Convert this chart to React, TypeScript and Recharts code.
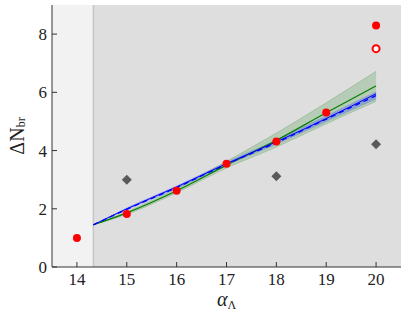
import {
  ComposedChart,
  Area,
  Line,
  Scatter,
  XAxis,
  YAxis,
  ReferenceArea,
  ReferenceLine,
} from "recharts";

// curve samples (start at the lower alpha cut)
const curveX = [14.33, 15, 16, 17, 18, 19, 20];
const greenMid = [1.45, 1.86, 2.62, 3.5, 4.35, 5.3, 6.22];
const greenLow = [1.45, 1.81, 2.55, 3.4, 4.12, 4.92, 5.69];
const greenHigh = [1.45, 1.9, 2.7, 3.63, 4.6, 5.64, 6.72];
const blueSolid = [1.45, 2.0, 2.75, 3.55, 4.3, 5.1, 5.95];
const blueDash = [1.45, 1.98, 2.73, 3.53, 4.27, 5.08, 5.89];
const blueLow = [1.45, 1.95, 2.69, 3.48, 4.21, 4.99, 5.76];
const blueHigh = [1.45, 2.04, 2.8, 3.61, 4.37, 5.2, 6.03];

// points
const redX = [14, 15, 16, 17, 18, 19, 20];
const redY = [1.0, 1.82, 2.62, 3.55, 4.31, 5.31, 8.3];
const openX = [20];
const openY = [7.5];
const diamondX = [15, 18, 20];
const diamondY = [3.0, 3.12, 4.22];

const xTicks = [14, 15, 16, 17, 18, 19, 20];
const yTicks = [0, 2, 4, 6, 8];
const cutX = 14.33;

const curveData = curveX.map((x, i) => ({
  x,
  gMid: greenMid[i],
  gBand: [greenLow[i], greenHigh[i]],
  bSolid: blueSolid[i],
  bDash: blueDash[i],
  bBand: [blueLow[i], blueHigh[i]],
}));
const redData = redX.map((x, i) => ({ x, y: redY[i] }));
const openData = openX.map((x, i) => ({ x, y: openY[i] }));
const diamondData = diamondX.map((x, i) => ({ x, y: diamondY[i] }));

const font = "Liberation Serif, Times New Roman, serif";
const tickStyle = { fontSize: 17, fill: "#222", fontFamily: font };

const RedDot = (p: any) => <circle cx={p.cx} cy={p.cy} r={4} fill="#ff0000" />;
const OpenDot = (p: any) => (
  <circle cx={p.cx} cy={p.cy} r={3.5} fill="#ffffff" stroke="#ff0000" strokeWidth={2} />
);
const Diamond = (p: any) => (
  <path
    d={`M${p.cx},${p.cy - 5}L${p.cx + 5},${p.cy}L${p.cx},${p.cy + 5}L${p.cx - 5},${p.cy}Z`}
    fill="#5a5a5a"
  />
);

const YTitle = (p: any) => {
  const vb = p.viewBox;
  const cx = 17;
  const cy = vb.y + vb.height / 2;
  return (
    <text
      x={cx}
      y={cy}
      transform={`rotate(-90 ${cx} ${cy})`}
      textAnchor="middle"
      dominantBaseline="central"
      fontFamily={font}
      fontSize={20}
      fill="#222"
    >
      ΔN
      <tspan fontSize={12} dy={4}>br</tspan>
    </text>
  );
};

const XTitle = (p: any) => {
  const vb = p.viewBox;
  return (
    <text
      x={vb.x + vb.width / 2}
      y={306}
      textAnchor="middle"
      fontFamily={font}
      fontStyle="italic"
      fontSize={20}
      fill="#222"
    >
      α
      <tspan fontSize={12} dy={3} fontStyle="normal">Λ</tspan>
    </text>
  );
};

export default function App() {
  return (
    <div style={{ position: "absolute", left: 0, top: 0, background: "#fff" }}>
      <ComposedChart
        width={407}
        height={317}
        data={curveData}
        margin={{ top: 5, right: 6, left: 0, bottom: 0 }}
      >
        <ReferenceArea x1={13.5} x2={cutX} y1={0} y2={9} fill="#f2f2f2" fillOpacity={1} stroke="none" />
        <ReferenceArea x1={cutX} x2={20.5} y1={0} y2={9} fill="#dedede" fillOpacity={1} stroke="none" />
        <ReferenceLine x={cutX} stroke="#c6c6c6" strokeWidth={1.5} />

        <XAxis
          dataKey="x"
          type="number"
          domain={[13.5, 20.5]}
          ticks={xTicks}
          allowDataOverflow
          height={50}
          stroke="#333"
          tickSize={-5}
          tickMargin={11}
          tick={tickStyle}
          label={<XTitle />}
        />
        <XAxis
          xAxisId="top"
          orientation="top"
          type="number"
          domain={[13.5, 20.5]}
          ticks={xTicks}
          height={0}
          stroke="#333"
          tickSize={-5}
          tick={false}
        />
        <YAxis
          type="number"
          domain={[0, 9]}
          ticks={yTicks}
          allowDataOverflow
          width={52}
          stroke="#333"
          tickSize={-5}
          tickMargin={10}
          tick={tickStyle}
          label={<YTitle />}
        />
        <YAxis
          yAxisId="right"
          orientation="right"
          type="number"
          domain={[0, 9]}
          ticks={yTicks}
          width={0}
          stroke="#333"
          tickSize={-5}
          tick={false}
        />

        <Area
          dataKey="gBand"
          type="monotone"
          fill="#2e8b2e"
          fillOpacity={0.22}
          stroke="#2e8b2e"
          strokeOpacity={0.3}
          strokeWidth={0.8}
          isAnimationActive={false}
        />
        <Area
          dataKey="bBand"
          type="monotone"
          fill="#2040ff"
          fillOpacity={0.3}
          stroke="none"
          isAnimationActive={false}
        />
        <Line dataKey="gMid" type="monotone" stroke="#008000" strokeWidth={1.2} dot={false} isAnimationActive={false} />
        <Line dataKey="bSolid" type="monotone" stroke="#0000ff" strokeWidth={1} dot={false} isAnimationActive={false} />
        <Line
          dataKey="bDash"
          type="monotone"
          stroke="#0000ff"
          strokeWidth={1.3}
          strokeDasharray="5 4"
          dot={false}
          isAnimationActive={false}
        />

        <Scatter data={diamondData} dataKey="y" shape={<Diamond />} isAnimationActive={false} />
        <Scatter data={redData} dataKey="y" shape={<RedDot />} isAnimationActive={false} />
        <Scatter data={openData} dataKey="y" shape={<OpenDot />} isAnimationActive={false} />
      </ComposedChart>
    </div>
  );
}
